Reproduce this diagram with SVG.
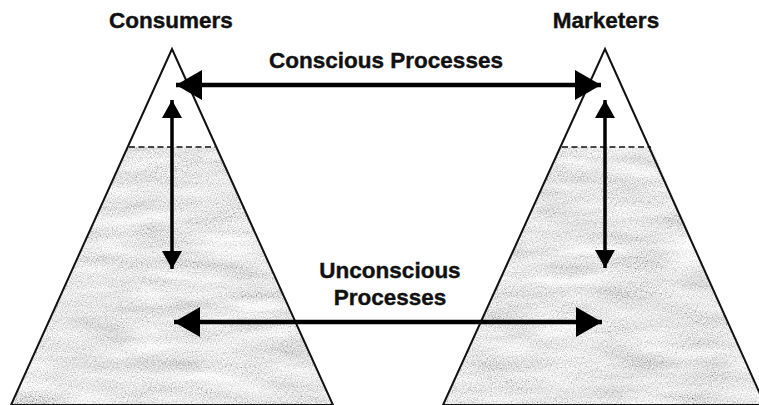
<svg xmlns="http://www.w3.org/2000/svg" width="759" height="405" viewBox="0 0 759 405">
  <style>
    .label { font-family: "Liberation Sans", Arial, sans-serif; font-weight: bold; font-size: 22.5px; fill: #111; stroke: #111; stroke-width: 0.4; text-anchor: middle; }
    .outline { fill: none; stroke: #111; stroke-width: 2; stroke-linejoin: miter; }
    .waterline { fill: none; stroke: #111; stroke-width: 1.6; stroke-dasharray: 6 3.5; }
    .wide { stroke: #000; stroke-width: 4.5; fill: none; }
    .narrow { stroke: #000; stroke-width: 3.5; fill: none; }
  </style>
  <defs>
    <marker id="bigHead" markerUnits="userSpaceOnUse" markerWidth="28" markerHeight="32" refX="26" refY="16" orient="auto-start-reverse">
      <path d="M0,1 L26,16 L0,31 z" fill="#000"/>
    </marker>
    <marker id="smallHead" markerUnits="userSpaceOnUse" markerWidth="20" markerHeight="22" refX="18" refY="11" orient="auto-start-reverse">
      <path d="M0,1 L18,11 L0,21 z" fill="#000"/>
    </marker>
    <!-- speckled grey tone for the submerged part of each pyramid -->
    <filter id="grain" filterUnits="userSpaceOnUse" x="0" y="0" width="759" height="405">
      <feTurbulence type="fractalNoise" baseFrequency="0.8" numOctaves="2" seed="4" result="fine"/>
      <feTurbulence type="fractalNoise" baseFrequency="0.015 0.07" numOctaves="2" seed="9" result="coarse"/>
      <feComposite in="fine" in2="coarse" operator="arithmetic" k1="0" k2="0.9" k3="0.4" k4="-0.1" result="mix"/>
      <feColorMatrix in="mix" type="matrix" values="0.33 0.33 0.33 0 0  0.33 0.33 0.33 0 0  0.33 0.33 0.33 0 0  0 0 0 0 1" result="gray"/>
      <feComponentTransfer in="gray" result="tone">
        <feFuncR type="linear" slope="1.8" intercept="0.08"/>
        <feFuncG type="linear" slope="1.8" intercept="0.08"/>
        <feFuncB type="linear" slope="1.8" intercept="0.08"/>
      </feComponentTransfer>
      <feComposite in="tone" in2="SourceGraphic" operator="in"/>
    </filter>
  </defs>

  <rect width="759" height="405" fill="#fff"/>

  <!-- left pyramid -->
  <g id="consumers">
    <polygon points="128.5,147 215.5,147 333,405 11,405" fill="#d4d4d4"/>
    <polygon points="128.5,147 215.5,147 333,405 11,405" fill="#ccc" filter="url(#grain)"/>
    <polygon class="outline" points="172,49 333,405 11,405"/>
    <line class="waterline" x1="129" y1="147" x2="215" y2="147"/>
    <text class="label" x="171" y="28">Consumers</text>
  </g>

  <!-- right pyramid -->
  <g id="marketers">
    <polygon points="561.5,147 651,147 765,405 443,405" fill="#d4d4d4"/>
    <polygon points="561.5,147 651,147 765,405 443,405" fill="#ccc" filter="url(#grain)"/>
    <polygon class="outline" points="605,49 765,405 443,405"/>
    <line class="waterline" x1="562" y1="147" x2="651" y2="147"/>
    <text class="label" x="606" y="28">Marketers</text>
  </g>

  <g id="conscious-label">
    <text class="label" x="386" y="68">Conscious Processes</text>
  </g>
  <g id="unconscious-label">
    <text class="label" x="390" y="278">Unconscious</text>
    <text class="label" x="390" y="305">Processes</text>
  </g>

  <!-- connectors -->
  <g id="connectors">
    <line class="wide" x1="176" y1="85" x2="601" y2="85" marker-start="url(#bigHead)" marker-end="url(#bigHead)"/>
    <line class="wide" x1="174" y1="322" x2="602" y2="322" marker-start="url(#bigHead)" marker-end="url(#bigHead)"/>
    <line class="narrow" x1="172" y1="100" x2="172" y2="269" marker-start="url(#smallHead)" marker-end="url(#smallHead)"/>
    <line class="narrow" x1="605" y1="100" x2="605" y2="268" marker-start="url(#smallHead)" marker-end="url(#smallHead)"/>
  </g>
</svg>
